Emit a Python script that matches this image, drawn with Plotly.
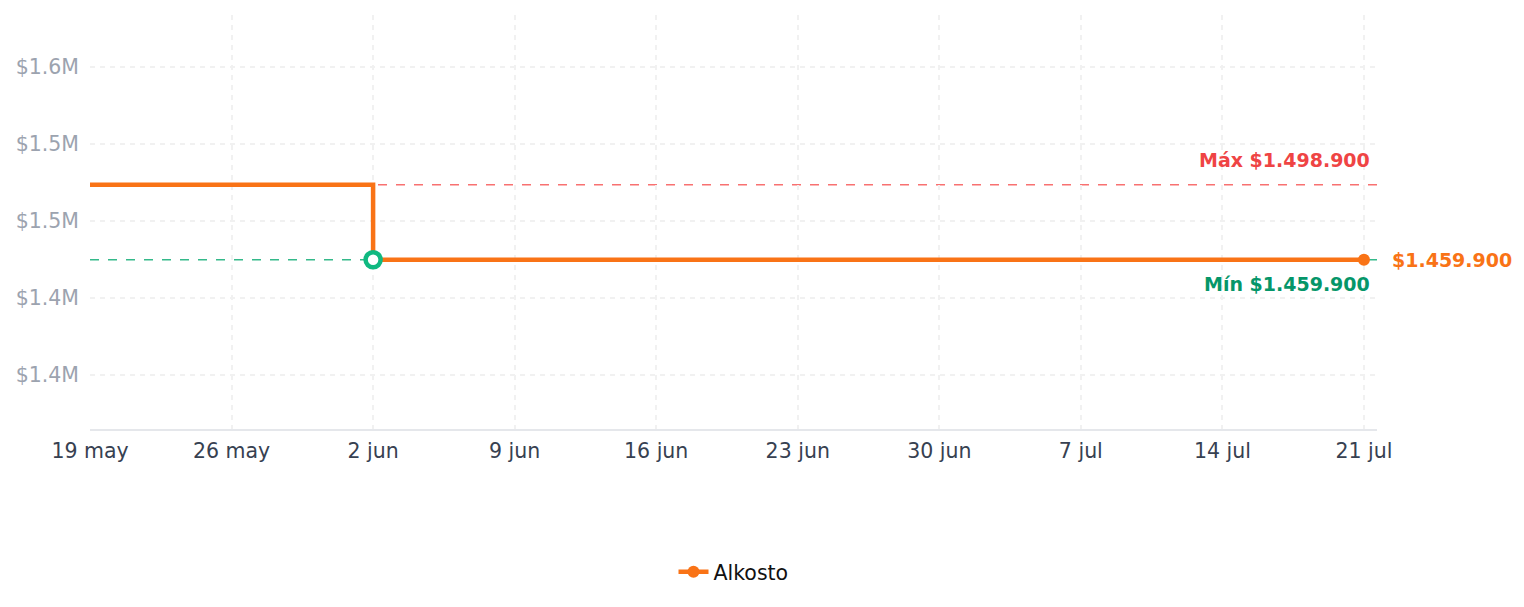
import plotly.graph_objects as go

dates = ["2025-05-19", "2025-06-02", "2025-07-21"]
prices = [1498900, 1459900, 1459900]
store = "Alkosto"
max_price = 1498900
min_price = 1459900
min_date = "2025-06-02"
last_date = "2025-07-21"
last_price = 1459900

x_tickvals = ["2025-05-19", "2025-05-26", "2025-06-02", "2025-06-09", "2025-06-16",
              "2025-06-23", "2025-06-30", "2025-07-07", "2025-07-14", "2025-07-21"]
x_ticktext = ["19 may", "26 may", "2 jun", "9 jun", "16 jun", "23 jun", "30 jun",
              "7 jul", "14 jul", "21 jul"]
y_tickvals = [1400000, 1440000, 1480000, 1520000, 1560000]
y_ticktext = ["$1.4M", "$1.4M", "$1.5M", "$1.5M", "$1.6M"]

ORANGE = "#f97316"
FONT = "DejaVu Sans"

fig = go.Figure()

fig.add_trace(go.Scatter(
    x=dates, y=prices, mode="lines", line=dict(color=ORANGE, width=4.5, shape="hv"),
    showlegend=False, legendgroup="a", hoverinfo="skip"))

fig.add_trace(go.Scatter(
    x=[last_date], y=[last_price], mode="lines+markers", name=store,
    line=dict(color=ORANGE, width=4.5), marker=dict(color=ORANGE, size=12),
    legendgroup="a"))

fig.add_trace(go.Scatter(
    x=[min_date], y=[min_price], mode="markers", showlegend=False,
    marker=dict(color="white", size=15, line=dict(color="#10b981", width=4.5))))

fig.add_shape(type="line", xref="paper", x0=0, x1=1, yref="y", y0=max_price, y1=max_price,
              line=dict(color="#f87171", width=1.5, dash="dash"), layer="below")
fig.add_shape(type="line", xref="paper", x0=0, x1=1, yref="y", y0=min_price, y1=min_price,
              line=dict(color="#34b98a", width=1.5, dash="dash"), layer="below")

fig.add_annotation(x=1, xref="x domain", y=max_price, yref="y", text="<b>Máx $1.498.900</b>",
                   showarrow=False, xanchor="right", yanchor="bottom", yshift=12, xshift=-5,
                   font=dict(family=FONT, size=19, color="#ef4444"))
fig.add_annotation(x=1, xref="x domain", y=min_price, yref="y", text="<b>Mín $1.459.900</b>",
                   showarrow=False, xanchor="right", yanchor="top", yshift=-11, xshift=-5,
                   font=dict(family=FONT, size=19, color="#059669"))
fig.add_annotation(x=1, xref="x domain", y=last_price, yref="y", text="<b>$1.459.900</b>",
                   showarrow=False, xanchor="left", yanchor="middle", xshift=13,
                   font=dict(family=FONT, size=19, color=ORANGE))

fig.update_layout(
    width=1524, height=607,
    margin=dict(l=90, r=147, t=15, b=178),
    paper_bgcolor="white", plot_bgcolor="white",
    font=dict(family=FONT, size=20),
    legend=dict(orientation="h", x=0.5, xanchor="center", y=-0.345, yanchor="middle",
                font=dict(size=20.5, color="#111111")),
    hovermode="closest",
)
fig.update_xaxes(
    range=["2025-05-19", "2025-07-21 15:30"],
    tickvals=x_tickvals, ticktext=x_ticktext,
    tickfont=dict(color="#374151", size=20.5),
    showgrid=True, gridcolor="#f1f1f1", griddash="5px,5px", gridwidth=1.5,
    showline=True, linecolor="#e5e7eb", linewidth=1.5,
    ticks="", ticklabelstandoff=3, zeroline=False)
fig.update_yaxes(
    range=[1372000, 1587000],
    tickvals=y_tickvals, ticktext=y_ticktext,
    tickfont=dict(color="#9ca3af", size=20.5),
    showgrid=True, gridcolor="#f1f1f1", griddash="5px,5px", gridwidth=1.5,
    showline=False, ticks="", ticklabelstandoff=10, zeroline=False)

fig.write_html("out.html")
